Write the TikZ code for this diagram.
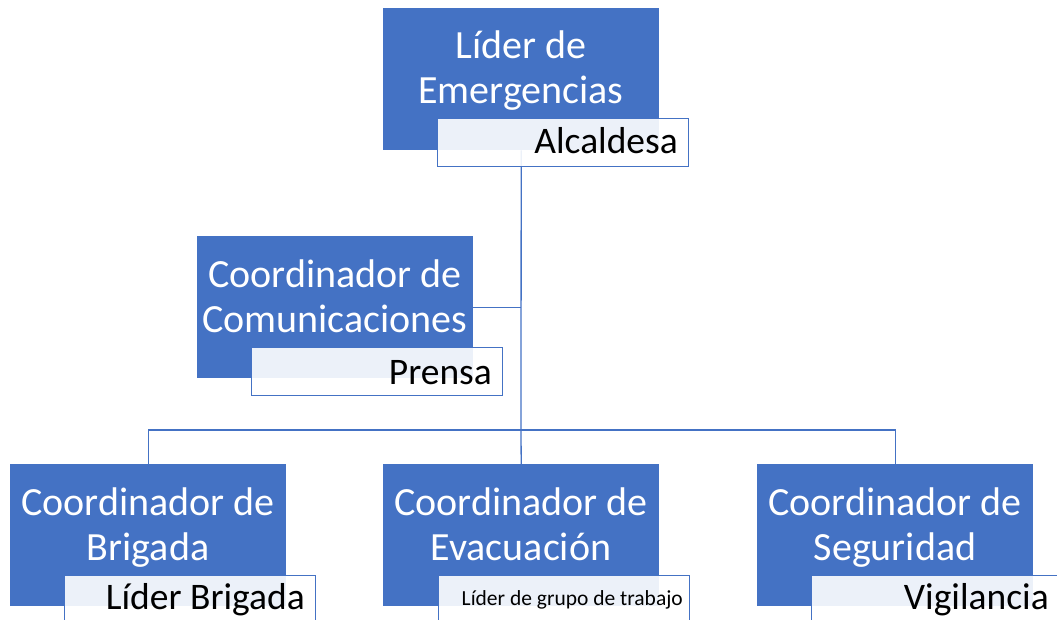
\documentclass[tikz,border=0pt]{standalone}
\usepackage{fontspec}
\setmainfont{Carlito}
\definecolor{azul}{HTML}{4472C4}
\begin{document}
\begin{tikzpicture}[x=1pt,y=-1pt,
  caja/.style={fill=azul,draw=none,minimum width=276pt,minimum height=142pt,inner sep=0pt,anchor=north west},
  titulo/.style={text=white,align=center,font=\fontsize{40}{45}\selectfont,inner sep=0pt,anchor=base},
  subcaja/.style={draw=azul,line width=0.8pt,fill=white,fill opacity=0.9,minimum width=251pt,minimum height=48pt,inner sep=0pt,anchor=north west},
  subtexto/.style={font=\fontsize{37.5}{40}\selectfont,inner sep=0pt,anchor=base east},
  linea/.style={draw=azul,line width=1.3pt}]
\clip (0,0) rectangle (1057,620);

% cajas azules
\node[caja] (lider) at (383,8) {};
\node[caja] (comunic) at (197,236) {};
\node[caja] (brigada) at (10,464) {};
\node[caja] (evac) at (383,464) {};
\node[caja] (segur) at (757,464) {};

% conectores
\coordinate (barra) at (521,430);
\draw[linea] (lider.south) -- (barra);
\draw[linea] (comunic.east) -- (comunic.east -| lider.south);
\draw[linea] (brigada.north) |- (barra) -| (segur.north);
\draw[linea] (barra) -- (evac.north);

% cajas de cargo
\node[subcaja] (alcaldesa) at (437,118) {};
\node[subcaja] (prensa) at (251,347) {};
\node[subcaja] (lbrigada) at (64,575) {};
\node[subcaja] (lgrupo) at (438,575) {};
\node[subcaja] (vigil) at (811,575) {};

% textos (base = ultima linea)
\node[titulo] (liderT) at (521,104) {Líder de\\Emergencias};
\node[titulo] (comunicT) at (335,332) {Coordinador de\\Comunicaciones};
\node[titulo] (brigadaT) at (148,560) {Coordinador de\\Brigada};
\node[titulo] (evacT) at (521,560) {Coordinador de\\Evacuación};
\node[titulo] (segurT) at (895,560) {Coordinador de\\Seguridad};

\node[subtexto] (alcaldesaT) at (678,154) {Alcaldesa};
\node[subtexto] (prensaT) at (492,384) {Prensa};
\node[subtexto] (lbrigadaT) at (305,609) {Líder Brigada};
\node[subtexto,font=\fontsize{21.5}{24}\selectfont] (lgrupoT) at (683,605) {Líder de grupo de trabajo};
\node[subtexto] (vigilT) at (1049,609) {Vigilancia};
\end{tikzpicture}
\end{document}
